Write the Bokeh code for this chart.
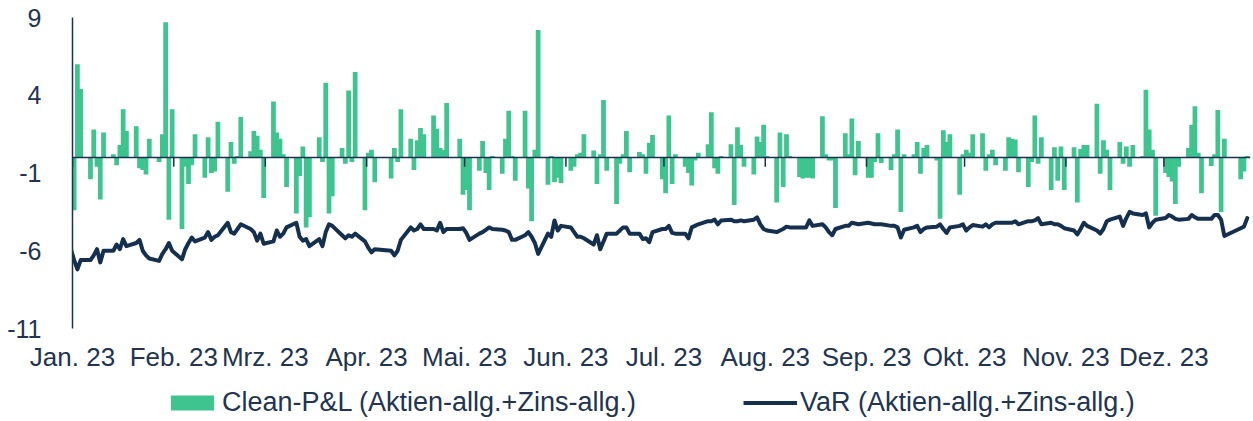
import pandas as pd
from bokeh.plotting import figure
from bokeh.layouts import column
from bokeh.models import ColumnDataSource, Range1d, FixedTicker, Legend, LegendItem, Span
from bokeh.embed import file_html
from bokeh.resources import INLINE

# ---------------- data ----------------
holidays = ["2023-04-07", "2023-04-10", "2023-05-01", "2023-12-25", "2023-12-26"]
month_labels = ["Jan. 23", "Feb. 23", "Mrz. 23", "Apr. 23", "Mai. 23", "Jun. 23",
                "Jul. 23", "Aug. 23", "Sep. 23", "Okt. 23", "Nov. 23", "Dez. 23"]
y_ticks = [9, 4, -1, -6, -11]
y_tick_labels = ["9", "4", "-1", "-6", "-11"]

# Clean-P&L per trading day
pnl_jan = [0.0, -3.4, 6.0, 4.4, -1.4, 1.8, -0.6, -2.7, 1.6, 0.2, -0.5, 0.8, 3.1, 1.7,
           2.0, -0.7, -0.8, -1.1, 1.2, -0.3, 1.5]
pnl_feb = [8.7, -4.0, 3.1, -4.6, -0.6, -1.7, -0.5, 1.5, -1.3, 1.3, -1.0, -0.9, 2.3,
           -2.2, 1.0, -0.4, 0.1, 2.6, 0.4, 1.7]
pnl_mar = [1.4, 0.5, -2.6, 3.6, 1.6, 1.2, 0.2, -1.9, -3.6, -1.2, 0.7, -4.5, -3.85,
           1.3, -0.3, 4.8, -3.6, -2.5, 0.6, -0.4, 4.3, -0.3, 5.5]
pnl_apr = [-3.4, 0.3, 0.5, -1.6, -1.35, 0.6, -0.3, 3.1, 1.2, -0.8, 1.1, 1.9, 1.5,
           2.7, 1.85, 0.6, 0.5, 3.5]
pnl_may = [1.2, -2.4, -2.1, -3.4, -0.85, 1.05, -1.0, -2.1, 0.1, -1.05, 1.2, 3.0, 0.1,
           -1.5, 3.0, -2.0, -4.1, 0.5, 8.2, -1.75, 0.1, -1.6]
pnl_jun = [-1.3, -1.65, -0.85, -0.6, 0.2, 0.3, 1.5, 0.45, -1.7, 0.2, 3.7, -0.85,
           -3.0, -0.4, 0.2, 1.7, -0.95, 0.35, 0.2, -1.05, 0.95, 1.45]
pnl_jul = [-1.4, -2.3, 2.7, -1.7, 0.2, -0.6, -1.0, -1.8, -0.2, 0.3, 0.85, 2.9, -0.7,
           -1.05, 0.1, 0.85, -3.05, 1.95, 0.8, -0.6, -1.1]
pnl_aug = [1.35, 1.0, 2.1, 0.1, -2.9, 1.6, -1.9, 1.5, 0.1, -1.25, -1.35, -1.3, -1.3,
           -1.35, 2.65, 0.2, -0.2, -0.2, -3.25, 1.55, 0.2, 2.5, -1.15]
pnl_sep = [1.05, -1.3, -1.3, -0.3, 1.55, -0.35, -0.8, 0.2, 1.8, -3.5, 0.2, 0.2, 1.0,
           -1.05, 0.6, 0.8, -0.2, -3.95, 1.75, 1.0, 1.5]
pnl_oct = [-2.4, 0.2, 0.5, 0.3, 1.5, 1.55, -0.85, 0.2, 0.5, -0.5, -0.85, 1.3, 1.2,
           1.15, -0.95, -1.9, -0.3, 2.7, -0.4, 1.3, -2.1, 0.65]
pnl_nov = [-1.5, 0.7, -2.1, 0.65, -2.9, 0.55, 0.8, 0.8, 3.45, -1.05, 1.1, 0.5, -2.1,
           1.0, -0.4, 0.7, -0.6, 0.8, 0.1, 4.35, 1.8, 0.5]
pnl_dec = [-3.75, -1.0, -1.25, -1.55, -3.0, -0.6, 0.6, 2.1, 3.3, 0.3, -2.3, -0.55,
           0.2, 3.05, -3.5, 1.2, -1.4, -0.9, 0.1]

# VaR per trading day
var_jan = [-5.9, -6.6, -7.2, -6.6, -6.6, -6.3, -5.9, -6.75, -6.0, -6.0, -5.6, -5.9,
           -5.25, -5.7, -5.5, -5.3, -6.0, -6.3, -6.5, -6.65, -6.2]
var_feb = [-5.9, -5.5, -6.0, -6.55, -5.9, -5.5, -5.15, -5.4, -5.15, -4.8, -5.3, -5.1,
           -5.0, -4.2, -4.8, -4.9, -4.6, -4.3, -4.6, -4.8]
var_mar = [-5.35, -4.9, -5.55, -5.4, -4.7, -5.1, -4.9, -4.5, -4.2, -5.1, -5.35, -5.25,
           -5.7, -5.25, -5.7, -4.8, -4.3, -4.4, -5.0, -5.2, -5.0, -5.1, -4.9]
var_apr = [-5.4, -5.8, -6.1, -5.9, -6.0, -6.3, -6.0, -5.3, -4.5, -4.7, -4.6, -4.3,
           -4.6, -4.6, -4.7, -4.2, -4.8, -4.6]
var_may = [-4.6, -4.55, -4.85, -5.3, -4.9, -4.8, -4.65, -4.5, -4.6, -4.65, -4.7, -4.8,
           -5.3, -5.3, -5.0, -4.8, -5.1, -5.5, -6.2, -4.9, -5.1, -4.05]
var_jun = [-4.7, -4.4, -4.5, -4.8, -5.1, -5.1, -5.2, -5.6, -5.0, -5.9, -5.4, -4.9,
           -4.9, -4.7, -4.5, -4.5, -4.9, -4.9, -5.25, -5.2, -5.45, -4.8]
var_jul = [-4.6, -4.6, -4.4, -4.85, -4.9, -4.9, -5.2, -4.5, -4.4, -4.3, -4.1, -4.1,
           -4.0, -4.3, -4.05, -4.0, -4.1, -4.1, -4.05, -4.1, -4.0]
var_aug = [-3.85, -4.3, -4.6, -4.7, -4.8, -4.7, -4.6, -4.45, -4.5, -4.5, -4.5, -4.5,
           -4.05, -4.4, -4.3, -4.5, -4.8, -5.0, -4.6, -4.4, -4.4, -4.2, -4.25]
var_sep = [-4.3, -4.2, -4.25, -4.3, -4.3, -4.3, -4.4, -4.4, -4.5, -5.15, -4.65, -4.5,
           -4.4, -4.8, -4.6, -4.5, -4.45, -4.3, -4.6, -4.85, -4.5]
var_oct = [-4.4, -4.3, -4.7, -4.5, -4.35, -4.45, -4.3, -4.5, -4.3, -4.2, -4.2, -4.2,
           -4.2, -4.1, -4.3, -4.1, -4.1, -4.05, -3.9, -4.3, -4.2, -4.3]
var_nov = [-4.3, -4.4, -4.55, -4.7, -4.95, -4.6, -4.2, -4.4, -4.7, -4.9, -4.6, -4.1,
           -4.0, -3.8, -4.4, -3.9, -3.5, -3.6, -3.7, -3.6, -4.5, -4.2]
var_dec = [-4.0, -3.9, -3.7, -3.8, -3.95, -4.0, -3.95, -3.7, -3.85, -3.95, -3.95,
           -3.95, -3.7, -3.7, -4.0, -5.05, -4.55, -4.45, -3.9]

pnl_months = [pnl_jan, pnl_feb, pnl_mar, pnl_apr, pnl_may, pnl_jun,
              pnl_jul, pnl_aug, pnl_sep, pnl_oct, pnl_nov, pnl_dec]
var_months = [var_jan, var_feb, var_mar, var_apr, var_may, var_jun,
              var_jul, var_aug, var_sep, var_oct, var_nov, var_dec]

# trading days (weekdays without exchange holidays)
dates = pd.bdate_range("2023-01-03", "2023-12-29", freq="C", holidays=holidays)
pnl, var = [], []
for m, (pm, vm) in enumerate(zip(pnl_months, var_months), start=1):
    n = int((dates.month == m).sum())
    assert len(pm) == n and len(vm) == n, (m, n, len(pm), len(vm))
    pnl += pm
    var += vm

xpos = (dates.dayofyear - 0.5).tolist()
tick_pos = [pd.Timestamp(2023, m, 3).dayofyear for m in range(1, 13)]

src = ColumnDataSource(dict(x=xpos, pnl=pnl, var=var))

# ---------------- style ----------------
GREEN = "#3dc48f"
NAVY = "#15304f"
AXIS = "#1b3052"
TEXT = "#22344f"
FONT = "Liberation Sans"
W = 1253

p = figure(width=W, height=378,
           x_range=Range1d(3, 363.5), y_range=Range1d(-11, 9),
           output_backend="svg", toolbar_location=None,
           min_border_left=72, min_border_right=3, min_border_top=17,
           min_border_bottom=50,
           background_fill_color="white", border_fill_color="white")
p.outline_line_color = None
p.grid.visible = False

bars = p.vbar(x="x", top="pnl", bottom=0, width=1.45, source=src,
              fill_color=GREEN, line_color=None)
line = p.line(x="x", y="var", source=src, line_color=NAVY, line_width=4,
              line_join="round", line_cap="round")

p.add_layout(Span(location=0, dimension="width", line_color=AXIS, line_width=1.5))
p.segment(x0=tick_pos, y0=[0] * len(tick_pos), x1=tick_pos, y1=[-0.6] * len(tick_pos),
          line_color=AXIS, line_width=1.5)

# y axis
p.yaxis.ticker = FixedTicker(ticks=y_ticks)
p.yaxis.major_label_overrides = dict(zip(y_ticks, y_tick_labels))
p.yaxis.major_tick_line_color = None
p.yaxis.minor_tick_line_color = None
p.yaxis.axis_line_color = AXIS
p.yaxis.axis_line_width = 1.5
p.yaxis.major_label_text_font = FONT
p.yaxis.major_label_text_font_size = "25px"
p.yaxis.major_label_text_color = TEXT
p.yaxis.major_label_standoff = 25

# x axis (labels only)
p.xaxis.ticker = FixedTicker(ticks=tick_pos)
p.xaxis.major_label_overrides = dict(zip(tick_pos, month_labels))
p.xaxis.axis_line_color = None
p.xaxis.major_tick_line_color = None
p.xaxis.minor_tick_line_color = None
p.xaxis.major_label_text_font = FONT
p.xaxis.major_label_text_font_size = "26px"
p.xaxis.major_label_text_color = TEXT
p.xaxis.major_label_standoff = 7

# legend strip: a small figure whose view lies far away from the data, so the
# series only act as legend proxies there
p2 = figure(width=W, height=43, x_range=Range1d(5000, 5001), y_range=Range1d(5000, 5001),
            output_backend="svg", toolbar_location=None,
            x_axis_location=None, y_axis_location=None,
            min_border_left=72, min_border_right=3, min_border_top=0, min_border_bottom=0,
            background_fill_color="white", border_fill_color="white")
p2.outline_line_color = None
p2.grid.visible = False
lbar = p2.vbar(x="x", top="pnl", bottom=0, width=0.5, source=src,
               fill_color=GREEN, line_color=None)
lline = p2.line(x="x", y="var", source=src, line_color=NAVY, line_width=4)

legend = Legend(items=[LegendItem(label="Clean-P&L (Aktien-allg.+Zins-allg.)", renderers=[lbar]),
                       LegendItem(label="VaR (Aktien-allg.+Zins-allg.)", renderers=[lline])],
                orientation="horizontal", location=(93, 3),
                glyph_width=54, glyph_height=19, label_standoff=3, spacing=107,
                padding=0, margin=0, border_line_color=None, background_fill_alpha=0,
                label_text_font=FONT, label_text_font_size="27px", label_text_color=TEXT)
p2.add_layout(legend)

layout = column(p, p2, spacing=0)
open("out.html", "w").write(file_html(layout, INLINE))
